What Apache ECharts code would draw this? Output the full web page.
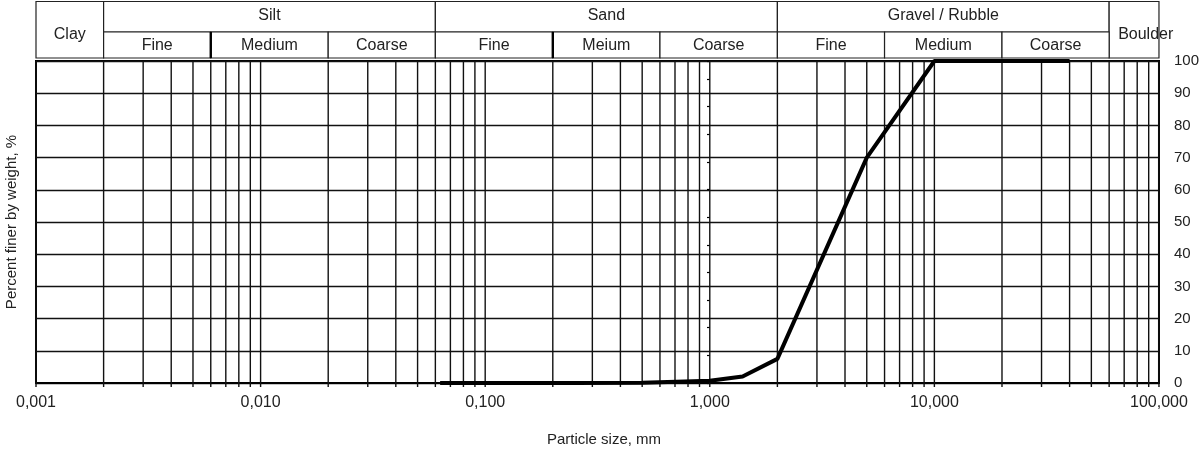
<!DOCTYPE html>
<html>
<head>
<meta charset="utf-8">
<title>Particle size distribution</title>
<script src="https://cdn.jsdelivr.net/npm/echarts@6/dist/echarts.min.js"></script>
<style>
  html, body { margin: 0; padding: 0; background: #fff; }
  #chart { width: 1202px; height: 450px; }
</style>
</head>
<body>
<div id="chart"></div>
<script>
// Grading curve: sieve sizes (mm) and cumulative percent passing
const sizeMm        = [0.063, 0.1, 0.25, 0.5, 1, 1.4, 2, 5, 10, 20, 40];
const percentFiner  = [0, 0, 0, 0.1, 0.7, 2.0, 7.5, 70, 100, 100, 100];

// Soil fraction classification (upper header row)
const fractionNames  = ['Clay', 'Silt', 'Sand', 'Gravel / Rubble', 'Boulder'];
const fractionBounds = [0.001, 0.002, 0.06, 2, 60, 100];

// Sub-fractions (lower header row), between consecutive bounds
const subNames  = ['Fine', 'Medium', 'Coarse', 'Fine', 'Meium', 'Coarse', 'Fine', 'Medium', 'Coarse'];
const subBounds = [0.002, 0.006, 0.02, 0.06, 0.2, 0.6, 2, 6, 20, 60];

// Log-paper vertical rules: 1..9 in each decade
const gridSizes = [];
for (let e = -3; e < 2; e++) {
  for (let m = 1; m < 10; m++) gridSizes.push(+(m * Math.pow(10, e)).toPrecision(3));
}
gridSizes.push(100);

const FONT = '"Liberation Sans", Arial, Helvetica, sans-serif';
const TEXT = '#222';

// Header cells: fractions without subdivisions span both rows
const headerCells = [];
fractionNames.forEach((name, i) => {
  const spans = (name === 'Clay' || name === 'Boulder');
  headerCells.push({ name, from: fractionBounds[i], to: fractionBounds[i + 1], row: spans ? 'both' : 'top',
                     align: name === 'Boulder' ? 'left' : 'center' });
});
subNames.forEach((name, i) => {
  headerCells.push({ name, from: subBounds[i], to: subBounds[i + 1], row: 'bottom', align: 'center',
                     heavyLeft: (i === 1 || i === 4) });
});

const chart = echarts.init(document.getElementById('chart'), null, { renderer: 'canvas' });

chart.setOption({
  animation: false,
  backgroundColor: '#fff',
  textStyle: { fontFamily: FONT },
  grid: { left: 36, right: 41, top: 61, bottom: 67, show: true, borderColor: '#000', borderWidth: 2, containLabel: false },
  xAxis: {
    type: 'log', logBase: 10, min: 0.001, max: 100,
    axisLine: { show: true, lineStyle: { color: '#000', width: 2 } },
    axisTick: { show: false },
    splitLine: { show: false },
    axisLabel: {
      fontSize: 16, color: TEXT, fontFamily: FONT, margin: 12,
      showMinLabel: true, showMaxLabel: true,
      formatter: v => Number(v).toFixed(3).replace('.', ',')
    }
  },
  yAxis: [
    {
      type: 'value', position: 'right', min: 0, max: 100, interval: 10,
      axisLine: { show: true, lineStyle: { color: '#000', width: 2 } },
      axisTick: { show: false },
      axisLabel: { fontSize: 15, color: TEXT, fontFamily: FONT, margin: 15 },
      splitLine: { show: true, lineStyle: { color: '#111', width: 1.4 } }
    },
    {
      // small inner tick scale crossing at 1 mm
      type: 'value', position: 'left', offset: -674, min: 0, max: 116.5, interval: 10,
      axisLine: { show: false },
      axisTick: { show: true, length: 3, lineStyle: { color: '#000', width: 1.2 } },
      axisLabel: { show: false },
      splitLine: { show: false }
    }
  ],
  graphic: [
    {
      type: 'text', x: 12, y: 222, rotation: Math.PI / 2,
      style: { text: 'Percent finer by weight, %', fill: TEXT, fontSize: 15, fontFamily: FONT, align: 'center', verticalAlign: 'middle' }
    },
    {
      type: 'text', x: 604, y: 440,
      style: { text: 'Particle size, mm', fill: TEXT, fontSize: 15, fontFamily: FONT, align: 'center', verticalAlign: 'middle' }
    }
  ],
  series: [
    {
      // vertical log-paper rules with their ticks below the axis
      type: 'custom', z: 1, silent: true,
      data: gridSizes.map(v => [v, 0]),
      encode: { x: 0, y: 1 },
      renderItem: (params, api) => {
        const v = api.value(0);
        const p0 = api.coord([v, 100]);
        const p1 = api.coord([v, 0]);
        return {
          type: 'line',
          shape: { x1: p0[0], y1: p0[1], x2: p1[0], y2: p1[1] + 4 },
          style: { stroke: '#111', lineWidth: 1.4 }
        };
      }
    },
    {
      // classification header above the plot
      type: 'custom', z: 2, silent: true,
      data: headerCells.map(c => [c.from, 100, c.to]),
      encode: { x: [0, 2], y: 1 },
      renderItem: (params, api) => {
        const c = headerCells[params.dataIndex];
        const a = api.coord([c.from, 100]);
        const b = api.coord([c.to, 100]);
        const top = a[1];
        const rowTop = top - 59.5, rowMid = top - 29, rowBot = top - 3;
        let y0, y1, ty;
        if (c.row === 'top') { y0 = rowTop; y1 = rowMid; ty = top - 45; }
        else if (c.row === 'bottom') { y0 = rowMid; y1 = rowBot; ty = top - 15; }
        else { y0 = rowTop; y1 = rowBot; ty = top - 26; }
        const tx = c.align === 'left' ? a[0] + 9 : (a[0] + b[0]) / 2;
        const children = [
          { type: 'rect', shape: { x: a[0], y: y0, width: b[0] - a[0], height: y1 - y0 },
            style: { fill: '#fff', stroke: '#222', lineWidth: 1.2 } },
          { type: 'text', x: tx, y: ty,
            style: { text: c.name, fill: TEXT, fontSize: 16, fontFamily: FONT, align: c.align, verticalAlign: 'middle' } }
        ];
        if (c.heavyLeft) {
          children.push({ type: 'line', shape: { x1: a[0], y1: y0, x2: a[0], y2: y1 },
                          style: { stroke: '#000', lineWidth: 2.4 } });
        }
        return { type: 'group', children };
      }
    },
    {
      name: 'Percent finer',
      type: 'line', z: 5, clip: false,
      data: sizeMm.map((s, i) => [s, percentFiner[i]]),
      symbol: 'none',
      lineStyle: { color: '#000', width: 4 }
    }
  ]
});
</script>
</body>
</html>
